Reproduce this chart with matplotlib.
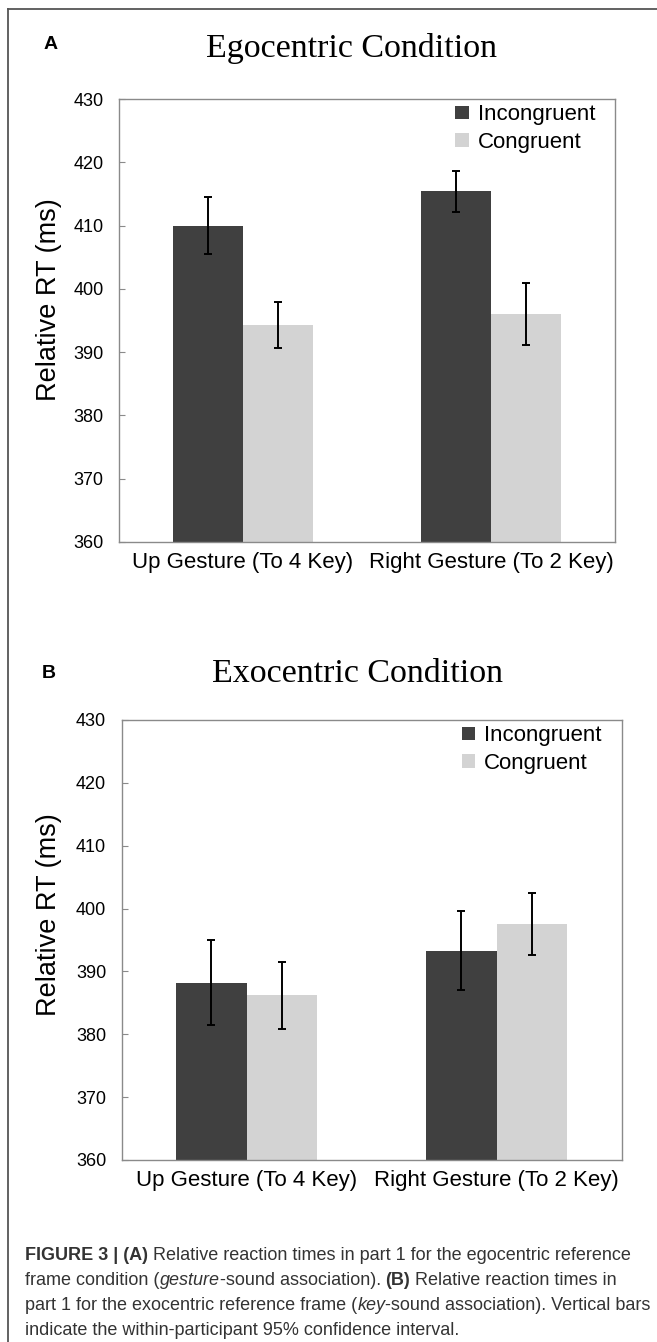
import matplotlib
matplotlib.use("Agg")
import matplotlib.pyplot as plt
from matplotlib.lines import Line2D
import numpy as np

# data
groups = ["Up Gesture (To 4 Key)", "Right Gesture (To 2 Key)"]
series = ["Incongruent", "Congruent"]

ego_incong = [410.0, 415.4]
ego_incong_err = [4.5, 3.3]
ego_cong = [394.3, 396.0]
ego_cong_err = [3.7, 4.9]

exo_incong = [388.2, 393.3]
exo_incong_err = [6.8, 6.3]
exo_cong = [386.2, 397.5]
exo_cong_err = [5.3, 4.9]

yticks = [360, 370, 380, 390, 400, 410, 420, 430]

dark = "#404040"
light = "#d3d3d3"
spine_col = "#8a8a8a"

W, H = 657, 1342
fig = plt.figure(figsize=(W / 100, H / 100), dpi=100)
fig.patch.set_facecolor("white")
plt.rcParams["font.family"] = ["Liberation Sans", "DejaVu Sans"]


def fx(px):
    return px / W


def fy(py):
    return 1 - py / H


def panel(rect, incong, incong_err, cong, cong_err, width):
    ax = fig.add_axes(rect)
    x = np.arange(len(groups))
    ax.bar(x - width / 2, incong, width, color=dark, label=series[0], zorder=2)
    ax.bar(x + width / 2, cong, width, color=light, label=series[1], zorder=2)
    ax.errorbar(x - width / 2, incong, yerr=incong_err, fmt="none", ecolor="black",
                elinewidth=1.4, capsize=2.8, capthick=1.4, zorder=3)
    ax.errorbar(x + width / 2, cong, yerr=cong_err, fmt="none", ecolor="black",
                elinewidth=1.4, capsize=2.8, capthick=1.4, zorder=3)
    ax.set_xlim(-0.5, 1.5)
    ax.set_ylim(360, 430)
    ax.set_yticks(yticks)
    ax.set_xticks(x)
    ax.set_xticklabels(groups, fontsize=16)
    ax.tick_params(axis="x", length=0, pad=7)
    ax.tick_params(axis="y", direction="in", length=4, color=spine_col,
                   labelsize=13, pad=11)
    for s in ax.spines.values():
        s.set_color(spine_col)
        s.set_linewidth(1.0)
    ax.legend(loc="upper right", bbox_to_anchor=(0.96, 0.988), frameon=False,
              fontsize=16, handlelength=0.6, handleheight=0.55,
              handletextpad=0.4, labelspacing=0.3, borderpad=0, borderaxespad=0)
    return ax


ax1 = panel([fx(119), fy(542), fx(496), 443 / H],
            ego_incong, ego_incong_err, ego_cong, ego_cong_err, 0.282)
ax2 = panel([fx(121.5), fy(1160), fx(500), 440 / H],
            exo_incong, exo_incong_err, exo_cong, exo_cong_err, 0.283)

# titles, panel letters and y labels
fig.text(fx(351), fy(57), "Egocentric Condition", family="Liberation Serif",
         fontsize=24.5, ha="center", va="baseline")
fig.text(fx(358), fy(682), "Exocentric Condition", family="Liberation Serif",
         fontsize=24.5, ha="center", va="baseline")
fig.text(fx(44), fy(49), "A", fontsize=14, weight="bold", va="baseline")
fig.text(fx(42), fy(678), "B", fontsize=14, weight="bold", va="baseline")
fig.text(fx(49), fy(300), "Relative RT (ms)", fontsize=19.5, rotation=90,
         ha="center", va="center")
fig.text(fx(49), fy(915), "Relative RT (ms)", fontsize=19.5, rotation=90,
         ha="center", va="center")

# outer frame (top and left edges)
fig.add_artist(Line2D([fx(8), 1], [fy(9), fy(9)], color="#555555", lw=1.3))
fig.add_artist(Line2D([fx(8), fx(8)], [fy(9), 0], color="#555555", lw=1.3))

# caption with mixed bold / italic runs
caption = [
    [("FIGURE 3 | (A)", "bold", "normal"),
     (" Relative reaction times in part 1 for the egocentric reference", "normal", "normal")],
    [("frame condition (", "normal", "normal"), ("gesture", "normal", "italic"),
     ("-sound association). ", "normal", "normal"), ("(B)", "bold", "normal"),
     (" Relative reaction times in", "normal", "normal")],
    [("part 1 for the exocentric reference frame (", "normal", "normal"),
     ("key", "normal", "italic"),
     ("-sound association). Vertical bars", "normal", "normal")],
    [("indicate the within-participant 95% confidence interval.", "normal", "normal")],
]
cap_base = [1260, 1285, 1310, 1335]

renderer = fig.canvas.get_renderer()
for runs, base in zip(caption, cap_base):
    xpix = 25
    for txt, wt, st in runs:
        t = fig.text(fx(xpix), fy(base), txt, fontsize=13, weight=wt, style=st,
                     color="#333333", va="baseline", ha="left")
        xpix += t.get_window_extent(renderer).width

fig.savefig("out.png", dpi=100)
